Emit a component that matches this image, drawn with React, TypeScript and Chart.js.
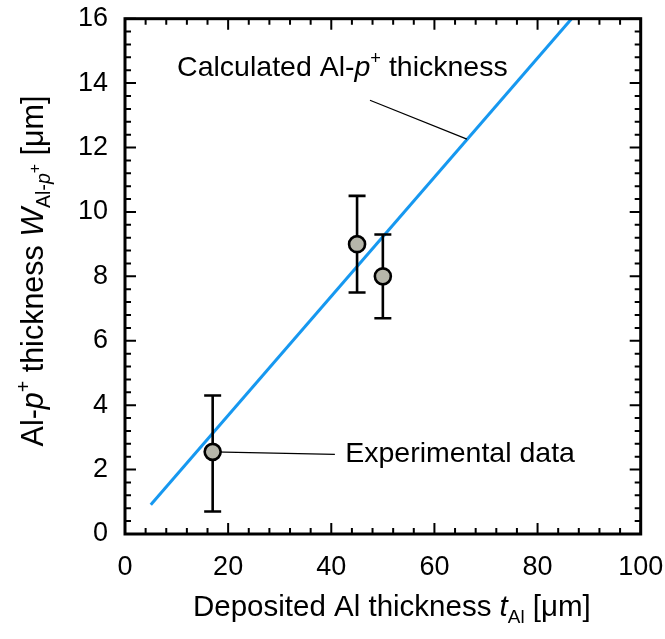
import React, { useEffect, useRef } from "react";
import Chart from "chart.js/auto";

// ---- data ----
const calcX = [5, 86.6];
const calcY = [0.91, 16];
const expX = [17, 45, 50];
const expY = [2.55, 9.0, 8.0];
const expLow = [0.7, 7.5, 6.7];
const expHigh = [4.3, 10.5, 9.3];
const xTickValues = [0, 20, 40, 60, 80, 100];
const yTickValues = [0, 2, 4, 6, 8, 10, 12, 14, 16];

// annotation anchors (data coordinates)
const calcLabelAt = [10.1, 14.22];
const calcLeaderFrom = [47.5, 13.47];
const calcLeaderTo = [66.3, 12.26];
const expLabelAt = [42.7, 2.24];
const expLeaderFrom = [17, 2.55];
const expLeaderTo = [40.7, 2.47];

const FONT = "'Liberation Sans', Arial, sans-serif";
const BLUE = "rgb(22,152,240)";

type Seg = { t: string; it?: boolean; sub?: boolean; sup?: boolean; subsup?: boolean };

function segFont(s: Seg, size: number) {
  let sz = size;
  if (s.sub || s.sup) sz = size * 0.64;
  if (s.subsup) sz = size * 0.52;
  return `${s.it ? "italic " : ""}${sz}px ${FONT}`;
}
function segDy(s: Seg, size: number) {
  if (s.sub) return size * 0.24;
  if (s.sup) return -size * 0.42;
  if (s.subsup) return -size * 0.1;
  return 0;
}
function measureRich(ctx: CanvasRenderingContext2D, segs: Seg[], size: number) {
  let w = 0;
  for (const s of segs) {
    ctx.font = segFont(s, size);
    w += ctx.measureText(s.t).width;
  }
  return w;
}
function drawRich(ctx: CanvasRenderingContext2D, segs: Seg[], size: number, x: number, y: number) {
  let cx = x;
  ctx.textBaseline = "alphabetic";
  ctx.textAlign = "left";
  for (const s of segs) {
    ctx.font = segFont(s, size);
    ctx.fillText(s.t, cx, y + segDy(s, size));
    cx += ctx.measureText(s.t).width;
  }
}

const xTitle: Seg[] = [
  { t: "Deposited Al thickness " },
  { t: "t", it: true },
  { t: "Al", sub: true },
  { t: " [μm]" },
];
const yTitle: Seg[] = [
  { t: "Al-" },
  { t: "p", it: true },
  { t: "+", sup: true },
  { t: " thickness " },
  { t: "W", it: true },
  { t: "Al-", sub: true },
  { t: "p", sub: true, it: true },
  { t: "+", subsup: true },
  { t: " [μm]" },
];
const calcLabel: Seg[] = [
  { t: "Calculated Al-" },
  { t: "p", it: true },
  { t: "+", sup: true },
  { t: " thickness" },
];
const expLabel: Seg[] = [{ t: "Experimental data" }];

const decorPlugin = {
  id: "decor",
  afterDatasetDraw(chart: any, args: any) {
    if (args.index !== 1) return;
    const ctx = chart.ctx as CanvasRenderingContext2D;
    const xs = chart.scales.x;
    const ys = chart.scales.y;
    ctx.save();
    ctx.strokeStyle = "#000";
    ctx.lineWidth = 2.6;
    ctx.lineCap = "butt";
    for (let i = 0; i < expX.length; i++) {
      const px = xs.getPixelForValue(expX[i]);
      const lo = ys.getPixelForValue(expLow[i]);
      const hi = ys.getPixelForValue(expHigh[i]);
      ctx.beginPath();
      ctx.moveTo(px, lo);
      ctx.lineTo(px, hi);
      ctx.moveTo(px - 8.5, lo);
      ctx.lineTo(px + 8.5, lo);
      ctx.moveTo(px - 8.5, hi);
      ctx.lineTo(px + 8.5, hi);
      ctx.stroke();
    }
    ctx.lineWidth = 1.2;
    ctx.beginPath();
    ctx.moveTo(xs.getPixelForValue(expLeaderFrom[0]), ys.getPixelForValue(expLeaderFrom[1]));
    ctx.lineTo(xs.getPixelForValue(expLeaderTo[0]), ys.getPixelForValue(expLeaderTo[1]));
    ctx.stroke();
    ctx.restore();
  },
  afterDraw(chart: any) {
    const ctx = chart.ctx as CanvasRenderingContext2D;
    const xs = chart.scales.x;
    const ys = chart.scales.y;
    const a = chart.chartArea;
    ctx.save();
    ctx.strokeStyle = "#000";
    ctx.lineWidth = 2;
    ctx.beginPath();
    for (let k = 0; k <= 25; k++) {
      const v = k * 4;
      const px = xs.getPixelForValue(v);
      const len = k % 5 === 0 ? 11 : 6;
      ctx.moveTo(px, a.bottom);
      ctx.lineTo(px, a.bottom - len);
      ctx.moveTo(px, a.top);
      ctx.lineTo(px, a.top + len);
    }
    for (let k = 0; k <= 40; k++) {
      const v = k * 0.4;
      const py = ys.getPixelForValue(v);
      const len = k % 5 === 0 ? 11 : 6;
      ctx.moveTo(a.left, py);
      ctx.lineTo(a.left + len, py);
      ctx.moveTo(a.right, py);
      ctx.lineTo(a.right - len, py);
    }
    ctx.stroke();
    ctx.lineWidth = 3;
    ctx.strokeRect(a.left, a.top, a.right - a.left, a.bottom - a.top);

    ctx.fillStyle = "#000";
    const size = 29.5;
    const wx = measureRich(ctx, xTitle, size);
    drawRich(ctx, xTitle, size, (a.left + a.right) / 2 + 9 - wx / 2, 616);
    const ySize = 30.5;
    const wy = measureRich(ctx, yTitle, ySize);
    ctx.save();
    ctx.translate(43, 271);
    ctx.rotate(-Math.PI / 2);
    drawRich(ctx, yTitle, ySize, -wy / 2, 0);
    ctx.restore();

    drawRich(ctx, calcLabel, 28.5, xs.getPixelForValue(calcLabelAt[0]), ys.getPixelForValue(calcLabelAt[1]));
    drawRich(ctx, expLabel, 28.5, xs.getPixelForValue(expLabelAt[0]), ys.getPixelForValue(expLabelAt[1]));
    ctx.lineWidth = 1.2;
    ctx.beginPath();
    ctx.moveTo(xs.getPixelForValue(calcLeaderFrom[0]), ys.getPixelForValue(calcLeaderFrom[1]));
    ctx.lineTo(xs.getPixelForValue(calcLeaderTo[0]), ys.getPixelForValue(calcLeaderTo[1]));
    ctx.stroke();
    ctx.restore();
  },
};

export default function App() {
  const ref = useRef<HTMLCanvasElement | null>(null);
  useEffect(() => {
    document.body.style.margin = "0";
    const canvas = ref.current!;
    const chart = new Chart(canvas, {
      type: "scatter",
      data: {
        datasets: [
          {
            type: "scatter",
            data: expX.map((x, i) => ({ x, y: expY[i] })),
            pointRadius: 8,
            pointHoverRadius: 8,
            backgroundColor: "#b6b6aa",
            borderColor: "#000",
            borderWidth: 2.6,
            clip: false as any,
          },
          {
            type: "line",
            data: calcX.map((x, i) => ({ x, y: calcY[i] })),
            borderColor: BLUE,
            borderWidth: 3,
            pointRadius: 0,
            showLine: true,
            fill: false,
          },
        ],
      },
      options: {
        responsive: false,
        animation: false,
        devicePixelRatio: 1,
        layout: { padding: { top: 18.7, right: 24.3, left: 0, bottom: 0 } },
        plugins: { legend: { display: false }, tooltip: { enabled: false } },
        events: [],
        scales: {
          x: {
            type: "linear",
            min: 0,
            max: 100,
            afterFit: (s: any) => {
              s.height = 105;
              s.paddingLeft = 0;
              s.paddingRight = 0;
            },
            afterBuildTicks: (s: any) => {
              s.ticks = xTickValues.map((v) => ({ value: v }));
            },
            grid: { display: false, drawTicks: false },
            border: { display: false },
            ticks: {
              color: "#000",
              padding: 17,
              font: { family: FONT, size: 27 },
              maxRotation: 0,
              callback: (v: any) => String(v),
            },
          },
          y: {
            type: "linear",
            min: 0,
            max: 16,
            afterFit: (s: any) => {
              s.width = 125;
              s.paddingTop = 0;
              s.paddingBottom = 0;
            },
            afterBuildTicks: (s: any) => {
              s.ticks = yTickValues.map((v) => ({ value: v }));
            },
            grid: { display: false, drawTicks: false },
            border: { display: false },
            ticks: {
              color: "#000",
              padding: 17,
              font: { family: FONT, size: 27 },
              callback: (v: any) => String(v),
            },
          },
        },
      },
      plugins: [decorPlugin],
    } as any);
    return () => chart.destroy();
  }, []);
  return <canvas ref={ref} width={665} height={639} style={{ display: "block" }} />;
}
